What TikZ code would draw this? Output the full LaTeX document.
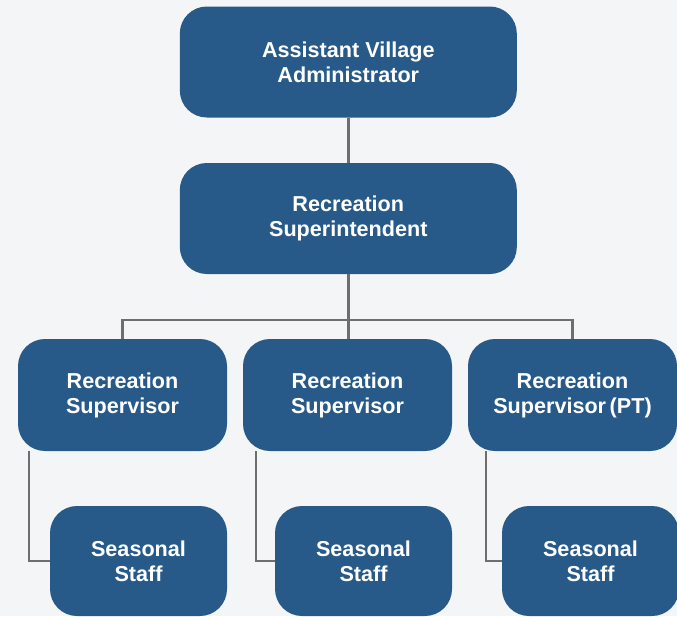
\documentclass[tikz,border=0pt]{standalone}
\usepackage{fontspec}
\setmainfont{Liberation Sans}
\definecolor{boxblue}{HTML}{275A89}
\definecolor{pagebg}{HTML}{F4F5F7}
\definecolor{linkgray}{HTML}{6E6E6E}
\begin{document}
\begin{tikzpicture}[x=1pt,y=-1pt,
  orgbox/.style={draw=none, fill=boxblue, rounded corners=27pt, text=white,
    align=center, inner sep=0pt,
    font=\fontsize{21.6}{25}\selectfont\bfseries},
  bigbox/.style={orgbox, minimum width=337pt, minimum height=111pt},
  supbox/.style={orgbox, minimum width=209pt, minimum height=112pt},
  staffbox/.style={orgbox, minimum width=177pt, minimum height=110pt},
  link/.style={draw=linkgray, line width=2.6pt}]
  % page
  \fill[pagebg] (0,0) rectangle (677,616);
  \useasboundingbox (0,0) rectangle (677,616);

  % boxes
  \node[bigbox] (ava) at (348.3,62) {Assistant Village\\Administrator};
  \node[bigbox] (rsup) at (348.3,218.5) {Recreation\\Superintendent};
  \node[supbox] (s1) at (122.5,395) {Recreation\\Supervisor};
  \node[supbox] (s2) at (347.5,395) {Recreation\\Supervisor};
  \node[supbox] (s3) at (572.5,395) {Recreation\\Supervisor\,(PT)};
  \node[staffbox] (st1) at (138.5,561) {Seasonal\\Staff};
  \node[staffbox] (st2) at (363.5,561) {Seasonal\\Staff};
  \node[staffbox] (st3) at (590.5,561) {Seasonal\\Staff};

  % connectors
  \coordinate (bus) at (348.3,320);
  \draw[link] (ava.south) -- (rsup.north);
  \draw[link] (rsup.south) -- (bus);
  \draw[link] (s1.north) |- (bus) -| (s3.north);
  \draw[link] (bus) -- (bus |- s2.north);
  \draw[link] ([xshift=11pt]s1.south west) |- (st1.west);
  \draw[link] ([xshift=13pt]s2.south west) |- (st2.west);
  \draw[link] ([xshift=18pt]s3.south west) |- (st3.west);
\end{tikzpicture}
\end{document}
